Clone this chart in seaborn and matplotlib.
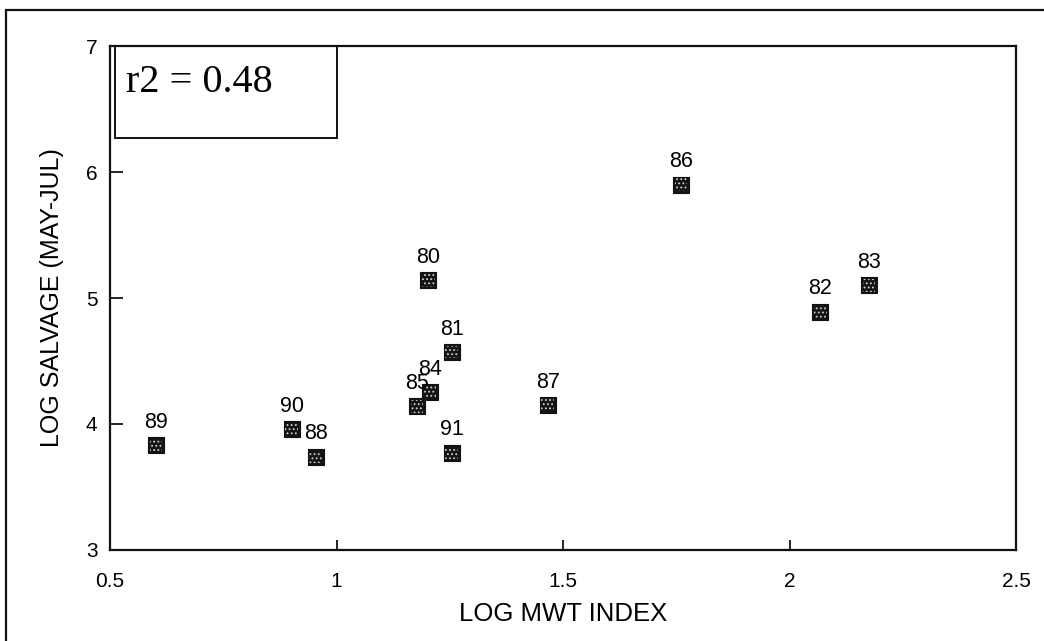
import matplotlib
matplotlib.use("Agg")
import matplotlib.pyplot as plt
import seaborn as sns
import pandas as pd
from matplotlib.patches import Rectangle
from matplotlib.lines import Line2D

# Data
years = ["89", "90", "88", "85", "84", "81", "91", "80", "87", "86", "82", "83"]
log_mwt = [0.601, 0.901, 0.954, 1.177, 1.206, 1.254, 1.254, 1.203, 1.466, 1.761, 2.068, 2.176]
log_salvage = [3.83, 3.96, 3.74, 4.14, 4.25, 4.57, 3.77, 5.14, 4.15, 5.90, 4.89, 5.10]
x_ticks = [0.5, 1, 1.5, 2, 2.5]
x_tick_labels = ["0.5", "1", "1.5", "2", "2.5"]
y_ticks = [3, 4, 5, 6, 7]
r2_text = "r2 = 0.48"

df = pd.DataFrame({"year": years, "x": log_mwt, "y": log_salvage})

sns.set_style("white")
plt.rcParams["font.family"] = ["Liberation Sans", "DejaVu Sans"]
plt.rcParams["hatch.linewidth"] = 0.8

fig = plt.figure(figsize=(10.44, 6.41), dpi=100)
ax = fig.add_axes([0.1054, 0.142, 0.8678, 0.7862])

sns.scatterplot(data=df, x="x", y="y", marker="s", s=120, color="#151515",
                edgecolor="#111111", linewidth=0.8, ax=ax, legend=False, zorder=3)
# stipple overlay (white dots inside the squares)
sns.scatterplot(data=df, x="x", y="y", marker="s", s=80, color="none",
                edgecolor="#cfcfcf", linewidth=0, ax=ax, legend=False, zorder=4)
ax.collections[-1].set_hatch("....")

for yr, xv, yv in zip(years, log_mwt, log_salvage):
    ax.annotate(yr, (xv, yv), xytext=(0, 9), textcoords="offset points",
                ha="center", va="bottom", fontsize=15.5, color="#000000")

ax.set_xlim(0.5, 2.5)
ax.set_ylim(3, 7)
ax.set_xticks(x_ticks)
ax.set_xticklabels(x_tick_labels)
ax.set_yticks(y_ticks)
ax.tick_params(axis="x", direction="in", length=7, width=1.2, pad=16,
               labelsize=15, colors="#000000", bottom=True, top=False)
ax.tick_params(axis="y", direction="in", length=9, width=1.2, pad=9,
               labelsize=15, colors="#000000", left=True, right=False)
# hide the tick marks at the limits (0.5, 2.5, 3, 7)
for t in ax.xaxis.get_major_ticks():
    if t.get_loc() in (0.5, 2.5):
        t.tick1line.set_visible(False)
for t in ax.yaxis.get_major_ticks():
    if t.get_loc() in (3, 7):
        t.tick1line.set_visible(False)

for s in ax.spines.values():
    s.set_visible(True)
    s.set_color("#111111")
    s.set_linewidth(1.6)

ax.set_xlabel("LOG MWT INDEX", fontsize=18.5, color="#000000", labelpad=8)
ax.set_ylabel("LOG SALVAGE (MAY-JUL)", fontsize=18, color="#000000", labelpad=16)

# r2 text box
ax.add_patch(Rectangle((0.005, 0.817), 0.2455, 0.183, transform=ax.transAxes,
                       fill=False, edgecolor="#111111", linewidth=1.4, zorder=4))
ax.text(0.018, 0.928, r2_text, transform=ax.transAxes, fontsize=29,
        family=["Liberation Serif", "DejaVu Serif"], va="center", ha="left",
        color="#000000")

# outer frame (left and top edges visible)
fig.add_artist(Line2D([0.006, 0.006], [-0.01, 0.984], transform=fig.transFigure,
                      color="#111111", linewidth=1.6))
fig.add_artist(Line2D([0.006, 1.01], [0.984, 0.984], transform=fig.transFigure,
                      color="#111111", linewidth=1.6))

fig.savefig("out.png", dpi=100)
